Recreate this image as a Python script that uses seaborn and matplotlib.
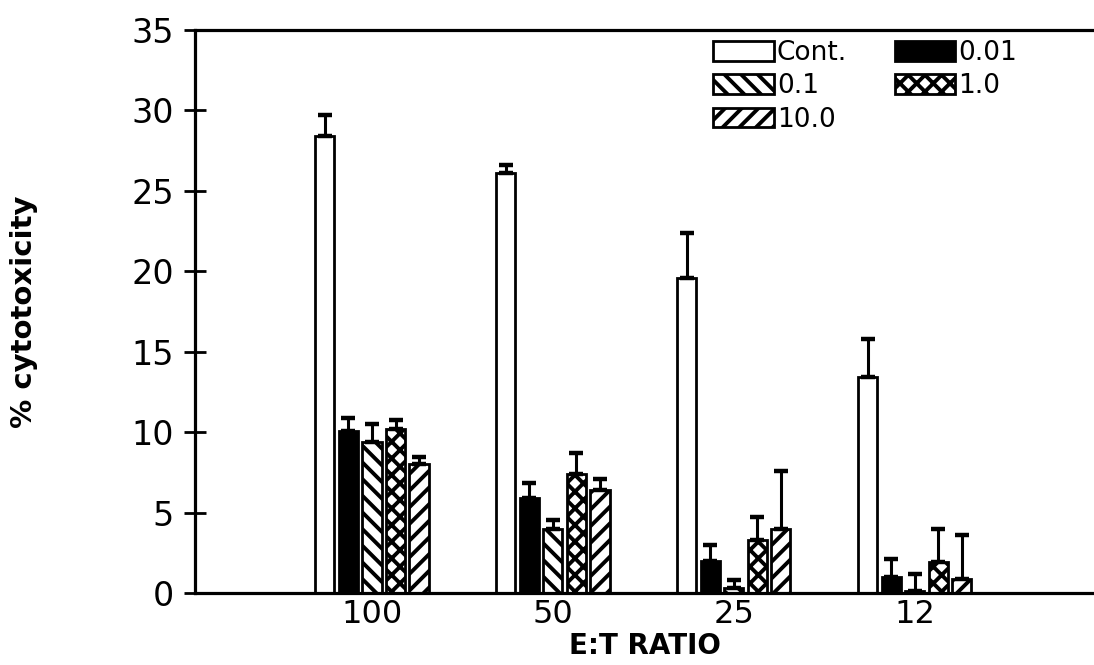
import numpy as np
import pandas as pd
import matplotlib
matplotlib.use("Agg")
import matplotlib.pyplot as plt
from matplotlib.patches import Patch
import seaborn as sns

# E:T ratios on the x axis and the treatment groups
ratios = ["100", "50", "25", "12"]
groups = ["Cont.", "0.01", "0.1", "1.0", "10.0"]

# mean % cytotoxicity per group, one value per E:T ratio
cont = [28.4, 26.1, 19.6, 13.4]
c001 = [10.1, 5.9, 2.0, 1.0]
c01 = [9.4, 4.0, 0.3, 0.1]
c1 = [10.2, 7.4, 3.3, 1.9]
c10 = [8.0, 6.4, 4.0, 0.9]

# upper error (SEM) per group
cont_err = [1.3, 0.5, 2.8, 2.4]
c001_err = [0.8, 0.95, 1.0, 1.1]
c01_err = [1.1, 0.55, 0.5, 1.1]
c1_err = [0.55, 1.3, 1.4, 2.1]
c10_err = [0.45, 0.7, 3.6, 2.7]

means = {"Cont.": cont, "0.01": c001, "0.1": c01, "1.0": c1, "10.0": c10}
errs = {"Cont.": cont_err, "0.01": c001_err, "0.1": c01_err, "1.0": c1_err, "10.0": c10_err}

rows = []
for g in groups:
    for r, v in zip(ratios, means[g]):
        rows.append({"ratio": r, "group": g, "value": v})
df = pd.DataFrame(rows)

sns.set_theme(style="ticks")
plt.rcParams["font.family"] = ["DejaVu Sans"]
plt.rcParams["hatch.linewidth"] = 2.8
plt.rcParams["text.color"] = "black"
plt.rcParams["axes.labelcolor"] = "black"

fill = {"Cont.": "white", "0.01": "black", "0.1": "white", "1.0": "white", "10.0": "white"}
hatch = {"Cont.": "", "0.01": "", "0.1": "\\\\", "1.0": "xx", "10.0": "//"}

fig = plt.figure(figsize=(10.94, 6.65), dpi=100)
ax = fig.add_axes([195 / 1094, 72 / 665, 1 - 195 / 1094, (593 - 30) / 665])

sns.barplot(data=df, x="ratio", y="value", hue="group", order=ratios,
            hue_order=groups, palette=fill, width=0.65, gap=0.19,
            errorbar=None, edgecolor="black", linewidth=2.0, legend=False,
            ax=ax)

for g, cont_bars in zip(groups, ax.containers):
    for bar, e in zip(cont_bars, errs[g]):
        bar.set_hatch(hatch[g])
        bar.set_edgecolor("black")
        x = bar.get_x() + bar.get_width() / 2
        h = bar.get_height()
        ax.errorbar([x], [h], yerr=[[0], [e]], fmt="none", ecolor="black",
                    elinewidth=2.2, capsize=4.7, capthick=3.2, zorder=3)

ax.set_xlim(-0.978, 3.99)
ax.set_ylim(0, 35)
ax.set_yticks(np.arange(0, 36, 5))

for side in ("left", "bottom", "top"):
    ax.spines[side].set_linewidth(2.3)
    ax.spines[side].set_color("black")
ax.spines["right"].set_visible(False)

ax.tick_params(axis="y", direction="inout", length=16.5, width=2.0,
               labelsize=24, pad=7, colors="black")
ax.tick_params(axis="x", length=0, labelsize=23, pad=4, colors="black")

ax.set_xlabel("E:T RATIO", fontsize=20, fontweight="bold", labelpad=2)
ax.set_ylabel("% cytotoxicity", fontsize=21, fontweight="bold", labelpad=0)
ax.yaxis.set_label_coords(-0.175, 0.5)

# legend laid out row-wise: Cont. 0.01 / 0.1 1.0 / 10.0
order = ["Cont.", "0.1", "10.0", "0.01", "1.0"]
handles = [Patch(facecolor=fill[g], edgecolor="black", hatch=hatch[g],
                 linewidth=2.0, label=g) for g in order]
fig.legend(handles=handles, loc="upper left",
           bbox_to_anchor=(713 / 1094, 1 - 40 / 665), ncol=2, frameon=False,
           fontsize=19, handlelength=2.3, handleheight=0.77,
           handletextpad=0.12, columnspacing=1.8, labelspacing=0.28,
           borderpad=0, borderaxespad=0)

fig.savefig("out.png", dpi=100)
